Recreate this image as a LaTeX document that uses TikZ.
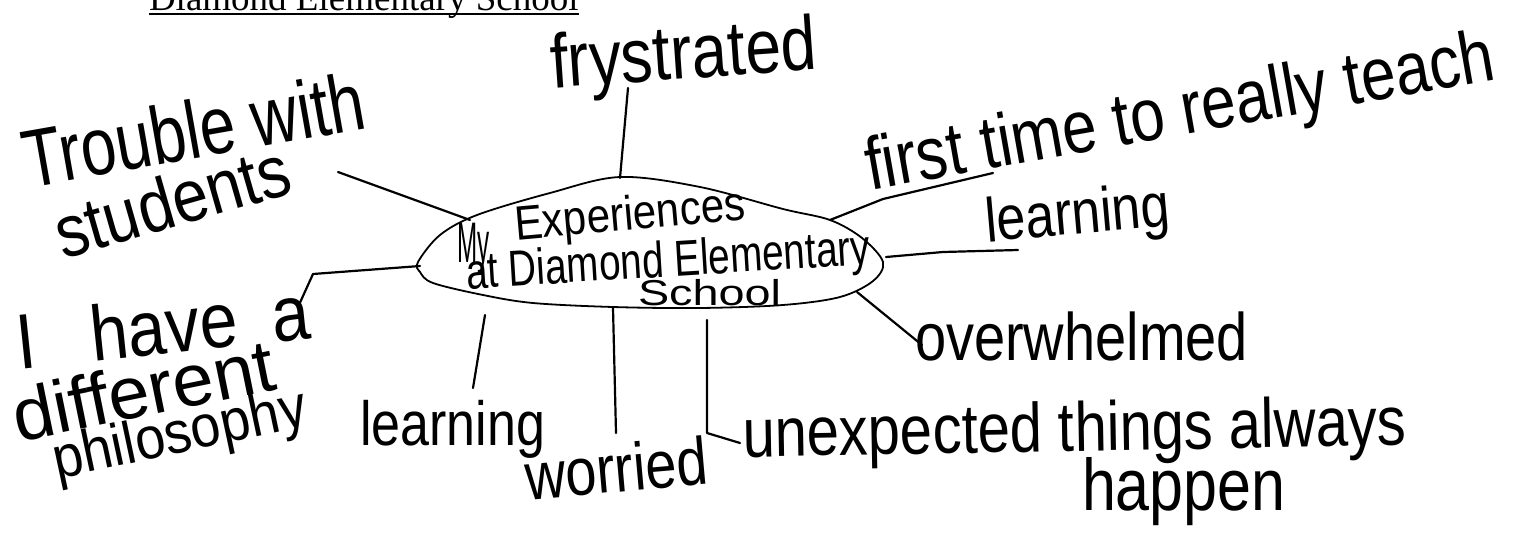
\documentclass[tikz,border=0pt]{standalone}
\usepackage{fontspec}
\usepackage{graphicx}
\setmainfont{Liberation Sans}
\newfontfamily\titlefont{Liberation Serif}
\newcommand{\hwsize}[1]{\fontsize{#1}{#1}\selectfont}
\newcommand{\hwx}[3]{\scalebox{#1}[#2]{#3}}
\newcommand{\hwtall}[1]{\scalebox{1}[1.2]{#1}}
\begin{document}
\begin{tikzpicture}[x=1pt,y=-1pt,
  lbl/.style={inner sep=0pt, outer sep=0pt, anchor=base west, text=black},
  link/.style={line width=2.2pt, line cap=round, line join=round, draw=black},
  hubline/.style={line width=1.8pt, draw=black}]
\useasboundingbox (0,0) rectangle (1525,543);

% title (cut off at top)
\node[lbl, font=\titlefont\hwsize{37}] (title) at (149,11) {Diamond Elementary School};
\draw[line width=1.3pt] ([yshift=-3pt]title.base west) -- ([yshift=-3pt]title.base east);

% central hub outline
\draw[hubline] plot[smooth cycle, tension=0.55] coordinates {
  (418,262) (440,235) (477,215) (550,193) (620,177) (700,187) (783,209)
  (830,220) (862,238) (883,262) (873,281) (840,297) (783,305) (700,308)
  (613,307) (533,303) (483,295) (433,283) (420,272)};

% hub text
\node[lbl, font=\hwsize{44}] (my) at (457,262) {\hwx{0.55}{1.3}{My}};
\node[lbl, font=\hwsize{42}, rotate=5] (exp) at (516,240) {\hwx{1}{1.15}{Experiences}};
\node[lbl, font=\hwsize{44}, rotate=3.5] (atdem) at (467,289) {\hwx{0.88}{1.15}{at Diamond Elementary}};
\node[lbl, font=\hwsize{36}] (school) at (638,305) {\hwx{1.3}{1}{School}};

% hub border points (connector ends)
\coordinate (hTop) at (620,178);
\coordinate (hTL) at (470,220);
\coordinate (hL) at (420,266);
\coordinate (hTR) at (830,220);
\coordinate (hR) at (886,257);
\coordinate (hBR) at (857,292);
\coordinate (hB) at (613,308);

% outer labels
\node[lbl, font=\hwsize{64}, rotate=4] (fry) at (552,88) {\hwtall{frystrated}};
\node[lbl, font=\hwsize{64}, rotate=10] (trouble) at (28,188) {\hwx{1}{1.28}{Trouble with}};
\node[lbl, font=\hwsize{64}, rotate=16] (students) at (63,259) {\hwx{1}{1.15}{students}};
\node[lbl, font=\hwsize{68}, rotate=6] (ihave) at (20,369) {\hwx{1}{1.15}{I\hspace{36pt} have\hspace{16pt} a}};
\node[lbl, font=\hwsize{74}, rotate=11.5] (different) at (18,442) {different};
\node[lbl, font=\hwsize{54}, rotate=12] (philo) at (57,479) {\hwx{1}{1.1}{philosophy}};
\node[lbl, font=\hwsize{52}] (learnB) at (360,445) {\hwtall{learning}};
\node[lbl, font=\hwsize{56}, rotate=5] (worried) at (527,500) {\hwtall{worried}};
\node[lbl, font=\hwsize{58}, rotate=1] (unexp) at (743,457) {\hwtall{unexpected things always}};
\node[lbl, font=\hwsize{61}] (happen) at (1082,510) {\hwtall{happen}};
\node[lbl, font=\hwsize{56}] (overw) at (915,360) {\hwtall{overwhelmed}};
\node[lbl, font=\hwsize{52}, rotate=5] (learnR) at (987,242) {\hwtall{learning}};
\node[lbl, font=\hwsize{62}, rotate=10] (first) at (870,190) {\hwtall{first time to really teach}};

% free connector ends
\coordinate (fryEnd) at (628,88);
\coordinate (troubleEnd) at (338,172);
\coordinate (ihaveBend) at (313,274);
\coordinate (ihaveEnd) at (298,307);
\coordinate (firstBend) at (883,199);
\coordinate (firstEnd) at (993,173);
\coordinate (learnRBend) at (943,252);
\coordinate (learnREnd) at (1018,250);
\coordinate (overwEnd) at (922,345);
\coordinate (learnBTop) at (485,315);
\coordinate (learnBEnd) at (473,388);
\coordinate (worriedEnd) at (616,433);
\coordinate (unexpTop) at (707,320);
\coordinate (unexpBend) at (707,433);
\coordinate (unexpEnd) at (740,443);

% connectors
\draw[link] (fryEnd) -- (hTop);
\draw[link] (troubleEnd) -- (hTL);
\draw[link] (hL) -- (ihaveBend) -- (ihaveEnd);
\draw[link] (hTR) -- (firstBend) -- (firstEnd);
\draw[link] (hR) -- (learnRBend) -- (learnREnd);
\draw[link] (hBR) -- (overwEnd);
\draw[link] (learnBTop) -- (learnBEnd);
\draw[link] (hB) -- (worriedEnd);
\draw[link] (unexpTop) -- (unexpBend) -- (unexpEnd);
\end{tikzpicture}
\end{document}
